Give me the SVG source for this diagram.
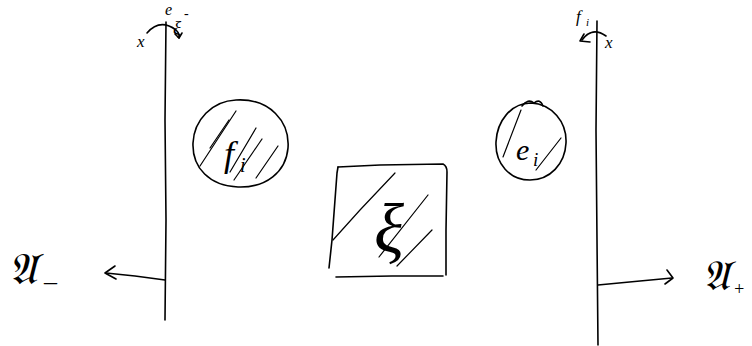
<svg xmlns="http://www.w3.org/2000/svg" width="752" height="346" viewBox="0 0 752 346">
<style>
.s{fill:none;stroke:#000;stroke-width:1.6;stroke-linecap:round;stroke-linejoin:round}
.h{fill:none;stroke:#000;stroke-width:1.2;stroke-linecap:round}
.t{font-family:"Liberation Serif",serif;font-style:italic;fill:#000}
</style>
<rect width="752" height="346" fill="#fff"/>
<g id="wall-left">
<path class="s" d="M166 22 L165 120 L166 220 L165 320"/>
<path class="s" d="M147 33 Q160 18 176 30 Q180 34 179 38"/>
<path class="s" d="M175 34 L179 38 L182 33"/>
<text class="t" x="137" y="47" font-size="17">x</text>
<text class="t" x="165" y="15" font-size="16">e</text>
<text class="t" x="173" y="34" font-size="19">ξ</text>
<text class="t" x="184" y="18" font-size="14">-</text>
</g>
<g id="wall-right">
<path class="s" d="M597 21 L596 130 L597 240 L598 345"/>
<path class="s" d="M582 40 Q592 26 606 36"/>
<path class="s" d="M584 34 L580 41 L590 42"/>
<text class="t" x="605" y="48" font-size="17">x</text>
<text class="t" x="576" y="22" font-size="17">f</text>
<text class="t" x="586" y="26" font-size="11">i</text>
</g>
<g id="node-f">
<path class="s" d="M236 100 C270 98 290 122 288 148 C286 172 266 188 238 187 C210 186 192 168 193 143 C194 120 212 101 236 100 Z"/>
<path class="h" d="M200 166 L236 111"/>
<path class="h" d="M210 148 L229 120"/>
<path class="h" d="M234 180 L262 139"/>
<path class="h" d="M256 178 L278 146"/>
<text class="t" x="224" y="166" font-size="36">f</text>
<text class="t" x="240" y="172" font-size="20">i</text>
<path class="h" d="M230 172 L256 128"/>
</g>
<g id="node-e">
<path class="s" d="M531 103 C552 104 567 122 566 143 C565 164 550 180 530 180 C510 180 495 164 496 142 C497 121 511 103 531 103 Z"/>
<path class="s" d="M522 106 Q528 98 534 103 Q540 98 543 106"/>
<path class="h" d="M503 157 L521 110"/>
<path class="h" d="M536 170 L561 138"/>
<text class="t" x="516" y="160" font-size="30">e</text>
<text class="t" x="533" y="166" font-size="19">i</text>
</g>
<g id="node-xi">
<path class="s" d="M338 167 L337 173 L332 240 L329 268"/>
<path class="s" d="M338 167 L380 165 L443 164 Q447 166 447 172 L446 230 L446 275"/>
<path class="s" d="M336 277 L392 276 L443 276"/>
<path class="h" d="M333 240 L360 210 L395 173"/>
<path class="h" d="M379 257 L428 195"/>
<path class="h" d="M397 266 L432 230"/>
<text class="t" x="374" y="252" font-size="70">ξ</text>
</g>
<g id="connectors">
<path class="s" d="M165 280 L135 276 L106 273"/>
<path class="s" d="M115 266 L105 273 L116 279"/>
<path class="s" d="M598 285 L640 281 L672 278"/>
<path class="s" d="M667 270 L673 278 L665 284"/>
</g>
<g id="labels">
<text class="t" x="8" y="284" font-size="44">𝔄</text>
<text class="t" x="44" y="290" font-size="26">–</text>
<text class="t" x="702" y="290" font-size="42">𝔄</text>
<text class="t" x="733" y="295" font-size="18">+</text>
</g>
</svg>
